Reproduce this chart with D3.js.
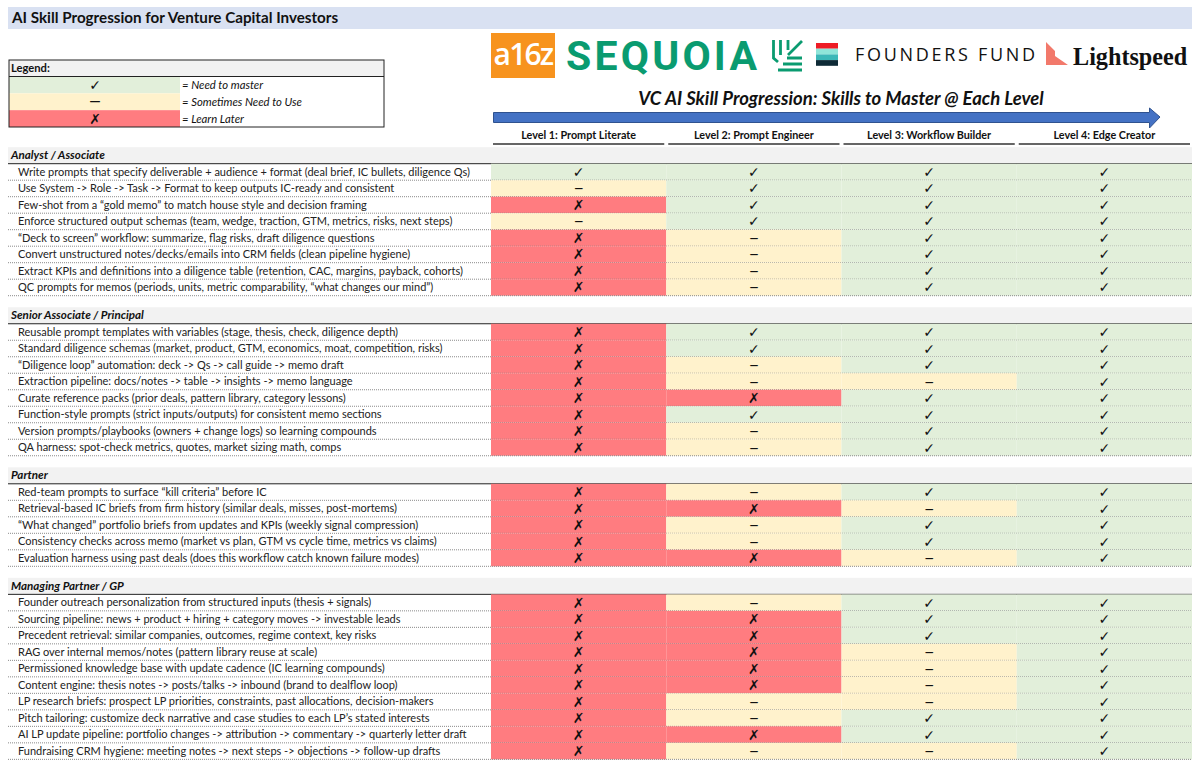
<!DOCTYPE html>
<html>
<head>
<meta charset="utf-8">
<script src="https://cdn.jsdelivr.net/npm/d3@7"></script>
<style>
html, body { margin: 0; padding: 0; background: #fff; }
svg { display: block; }
text { font-family: Lato, "Open Sans", sans-serif; fill: #111; }
</style>
</head>
<body>
<div id="chart"></div>
<script>
// Table content
var levels = ["Level 1: Prompt Literate", "Level 2: Prompt Engineer", "Level 3: Workflow Builder", "Level 4: Edge Creator"];
var sections = ["Analyst / Associate", "Senior Associate / Principal", "Partner", "Managing Partner / GP"];

var analystSkills = [
  "Write prompts that specify deliverable + audience + format (deal brief, IC bullets, diligence Qs)",
  "Use System -> Role -> Task -> Format to keep outputs IC-ready and consistent",
  "Few-shot from a “gold memo” to match house style and decision framing",
  "Enforce structured output schemas (team, wedge, traction, GTM, metrics, risks, next steps)",
  "“Deck to screen” workflow: summarize, flag risks, draft diligence questions",
  "Convert unstructured notes/decks/emails into CRM fields (clean pipeline hygiene)",
  "Extract KPIs and definitions into a diligence table (retention, CAC, margins, payback, cohorts)",
  "QC prompts for memos (periods, units, metric comparability, “what changes our mind”)"
];
var seniorSkills = [
  "Reusable prompt templates with variables (stage, thesis, check, diligence depth)",
  "Standard diligence schemas (market, product, GTM, economics, moat, competition, risks)",
  "“Diligence loop” automation: deck -> Qs -> call guide -> memo draft",
  "Extraction pipeline: docs/notes -> table -> insights -> memo language",
  "Curate reference packs (prior deals, pattern library, category lessons)",
  "Function-style prompts (strict inputs/outputs) for consistent memo sections",
  "Version prompts/playbooks (owners + change logs) so learning compounds",
  "QA harness: spot-check metrics, quotes, market sizing math, comps"
];
var partnerSkills = [
  "Red-team prompts to surface “kill criteria” before IC",
  "Retrieval-based IC briefs from firm history (similar deals, misses, post-mortems)",
  "“What changed” portfolio briefs from updates and KPIs (weekly signal compression)",
  "Consistency checks across memo (market vs plan, GTM vs cycle time, metrics vs claims)",
  "Evaluation harness using past deals (does this workflow catch known failure modes)"
];
var gpSkills = [
  "Founder outreach personalization from structured inputs (thesis + signals)",
  "Sourcing pipeline: news + product + hiring + category moves -> investable leads",
  "Precedent retrieval: similar companies, outcomes, regime context, key risks",
  "RAG over internal memos/notes (pattern library reuse at scale)",
  "Permissioned knowledge base with update cadence (IC learning compounds)",
  "Content engine: thesis notes -> posts/talks -> inbound (brand to dealflow loop)",
  "LP research briefs: prospect LP priorities, constraints, past allocations, decision-makers",
  "Pitch tailoring: customize deck narrative and case studies to each LP’s stated interests",
  "AI LP update pipeline: portfolio changes -> attribution -> commentary -> quarterly letter draft",
  "Fundraising CRM hygiene: meeting notes -> next steps -> objections -> follow-up drafts"
];

// one string per row, one letter per level: c = master, d = sometimes, x = later
var analystRatings = ["cccc", "dccc", "xccc", "dccc", "xdcc", "xdcc", "xdcc", "xdcc"];
var seniorRatings = ["xccc", "xccc", "xdcc", "xddc", "xxcc", "xccc", "xdcc", "xdcc"];
var partnerRatings = ["xdcc", "xxdc", "xdcc", "xdcc", "xxdc"];
var gpRatings = ["xdcc", "xxcc", "xxcc", "xxdc", "xxdc", "xxdc", "xddc", "xdcc", "xxcc", "xddc"];

var legendKeys = ["c", "d", "x"];
var legendLabels = ["= Need to master", "= Sometimes Need to Use", "= Learn Later"];

var svgWidth = 1200;
var svgHeight = 766;
var left = 8;
var right = 1192;
var tableX = 491;

var fills = { c: "#e2efda", d: "#fff2cc", x: "#ff7c80" };
var glyphs = { c: "\u2713", d: "\u2014", x: "\u2717" };

var svg = d3.select("#chart").append("svg")
  .attr("width", svgWidth)
  .attr("height", svgHeight);

var skillLists = [analystSkills, seniorSkills, partnerSkills, gpSkills];
var ratingLists = [analystRatings, seniorRatings, partnerRatings, gpRatings];

// walk the sheet in row units, a blank spacer is 0.7 of a row
var rows = [];
var heads = [];
var pos = 0;
sections.forEach(function(name, s) {
  heads.push({ name: name, pos: pos });
  pos += 1;
  skillLists[s].forEach(function(skill, i) {
    rows.push({ skill: skill, rating: ratingLists[s][i], pos: pos });
    pos += 1;
  });
  pos += 0.7;
});

var yScale = d3.scaleLinear().domain([0, 1]).range([147.2, 163.7]);
var xScale = d3.scaleBand().domain(levels).range([tableX, right]);

// glyph cell, the dash is smaller than the other two
function glyph(sel, k, x, y, dashSize) {
  sel.append("text").attr("x", x).attr("y", y + (k == "d" ? 3 : 5))
    .attr("text-anchor", "middle")
    .attr("font-size", k == "d" ? dashSize : 14)
    .attr("font-weight", 700)
    .style("font-family", "'DejaVu Sans'")
    .text(glyphs[k]);
}

// title bar
svg.append("rect").attr("x", left).attr("y", 7).attr("width", right - left).attr("height", 22).attr("fill", "#d9e1f2");
svg.append("text").attr("x", 12).attr("y", 23).attr("font-size", 15.2).attr("font-weight", 700).text("AI Skill Progression for Venture Capital Investors");

// legend
var legendY = d3.scaleBand().domain(legendKeys).range([76.5, 127]);
svg.append("rect").attr("x", 9).attr("y", 60).attr("width", 375).attr("height", 16.5).attr("fill", "#f2f2f2");
svg.append("text").attr("x", 11).attr("y", 72).attr("font-size", 11.2).attr("font-weight", 700).text("Legend:");
legendKeys.forEach(function(k, i) {
  var mid = legendY(k) + legendY.bandwidth() / 2;
  svg.append("rect").attr("x", 9).attr("y", legendY(k)).attr("width", 171).attr("height", legendY.bandwidth()).attr("fill", fills[k]);
  glyph(svg, k, 95, mid, 11);
  svg.append("text").attr("x", 182).attr("y", mid + 4)
    .attr("font-size", 11.3).attr("font-style", "italic").text(legendLabels[i]);
});
svg.append("rect").attr("x", 9).attr("y", 60).attr("width", 375).attr("height", 67).attr("fill", "none").attr("stroke", "#222").attr("stroke-width", 1);
svg.append("line").attr("x1", 9).attr("x2", 384).attr("y1", 76.5).attr("y2", 76.5).attr("stroke", "#222");

// logos
var logos = svg.append("g");
logos.append("rect").attr("x", 491).attr("y", 33).attr("width", 64).attr("height", 45).attr("fill", "#f7931e");
logos.append("text").attr("x", 523).attr("y", 65).attr("text-anchor", "middle").attr("font-size", 30).attr("font-weight", 600).style("fill", "#fff").style("font-family", "'Open Sans'").attr("letter-spacing", -1.8).text("a16z");
logos.append("text").attr("x", 566).attr("y", 69.5).attr("font-size", 41).attr("font-weight", 700).style("fill", "#0a9b70").style("font-family", "Roboto").attr("letter-spacing", 3.2).text("SEQUOIA");
var leaf = logos.append("g").attr("fill", "none").attr("stroke", "#0a9b70").attr("stroke-width", 2.8);
leaf.append("path").attr("d", "M773.5 40V58L778 62M780.5 40V55M788 40V50M788 55L802 41M787 58H802M783 64H802M778 70H802");
["#ee1c25", "#8fe5d9", "#3cb8b8", "#0e2a36"].forEach(function(c, i) {
  logos.append("rect").attr("x", 816).attr("y", 43 + i * 5.7).attr("width", 22).attr("height", 5.7).attr("fill", c);
});
logos.append("text").attr("x", 855).attr("y", 61).attr("font-size", 18).style("font-family", "'Open Sans'").attr("letter-spacing", 2.7).text("FOUNDERS FUND");
logos.append("path").attr("d", "M1046 42L1055 51V56L1068 65H1046Z").attr("fill", "#f2796b");
logos.append("text").attr("x", 1073).attr("y", 65).attr("font-size", 24.2).attr("font-weight", 700).style("font-family", "'Liberation Serif'").text("Lightspeed");

// progression title and arrow
svg.append("text").attr("x", 841).attr("y", 105).attr("text-anchor", "middle").attr("font-size", 18.5).attr("font-weight", 700).attr("font-style", "italic").text("VC AI Skill Progression: Skills to Master @ Each Level");
svg.append("path").attr("d", "M493.5 112.5H1149.5V108L1160 117L1149.5 128V122.5H493.5Z").attr("fill", "#4472c4").attr("stroke", "#2f528f");

// level headers
levels.forEach(function(level) {
  svg.append("text").attr("x", xScale(level) + xScale.bandwidth() / 2).attr("y", 139)
    .attr("text-anchor", "middle").attr("font-size", 10.8).attr("font-weight", 700).text(level);
  svg.append("line").attr("x1", xScale(level) + 2).attr("x2", xScale(level) + xScale.bandwidth() - 2)
    .attr("y1", 144).attr("y2", 144).attr("stroke", "#666").attr("stroke-width", 2);
});

// section headers
var headG = svg.selectAll("g.head").data(heads).enter().append("g").attr("class", "head");
headG.append("rect").attr("x", left).attr("y", function(d) { return yScale(d.pos); })
  .attr("width", right - left).attr("height", yScale(1) - yScale(0)).attr("fill", "#f2f2f2");
headG.append("line").attr("x1", left).attr("x2", right)
  .attr("y1", function(d) { return yScale(d.pos + 1); }).attr("y2", function(d) { return yScale(d.pos + 1); })
  .attr("stroke", "#222");
headG.append("text").attr("x", 11).attr("y", function(d) { return yScale(d.pos + 0.5) + 3.9; })
  .attr("font-size", 11.6).attr("font-weight", 700).attr("font-style", "italic").text(function(d) { return d.name; });

// skill rows
var rowG = svg.selectAll("g.row").data(rows).enter().append("g").attr("class", "row");
rowG.append("text").attr("x", 18).attr("y", function(d) { return yScale(d.pos + 0.5) + 3.8; })
  .attr("font-size", 11).style("fill", "#222").text(function(d) { return d.skill; });

rowG.each(function(d) {
  var g = d3.select(this);
  levels.forEach(function(level, i) {
    var k = d.rating[i];
    g.append("rect").attr("x", xScale(level)).attr("y", yScale(d.pos))
      .attr("width", xScale.bandwidth()).attr("height", yScale(1) - yScale(0)).attr("fill", fills[k]);
    glyph(g, k, xScale(level) + xScale.bandwidth() / 2, yScale(d.pos + 0.5), 8.5);
  });
});

rowG.append("line").attr("x1", left).attr("x2", right)
  .attr("y1", function(d) { return yScale(d.pos + 1); }).attr("y2", function(d) { return yScale(d.pos + 1); })
  .attr("stroke", "#8a8a8a").attr("stroke-dasharray", "1 1");
</script>
</body>
</html>
